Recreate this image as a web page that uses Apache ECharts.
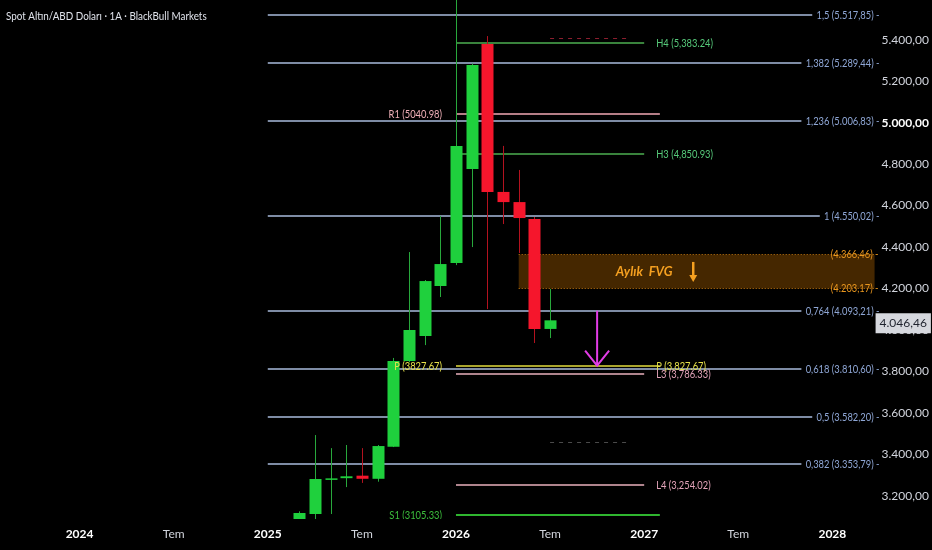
<!DOCTYPE html>
<html>
<head>
<meta charset="utf-8">
<script src="https://cdn.jsdelivr.net/npm/echarts@6/dist/echarts.min.js"></script>
<style>
html,body{margin:0;padding:0;background:#000;}
#chart{width:932px;height:550px;}
</style>
</head>
<body>
<div id="chart"></div>
<script>
// ---------- DATA ----------
const categories = [
  '2023-09','2023-10','2023-11','2023-12',
  '2024-01','2024-02','2024-03','2024-04','2024-05','2024-06','2024-07','2024-08','2024-09','2024-10','2024-11','2024-12',
  '2025-01','2025-02','2025-03','2025-04','2025-05','2025-06','2025-07','2025-08','2025-09','2025-10','2025-11','2025-12',
  '2026-01','2026-02','2026-03','2026-04','2026-05','2026-06','2026-07','2026-08','2026-09','2026-10','2026-11','2026-12',
  '2027-01','2027-02','2027-03','2027-04','2027-05','2027-06','2027-07','2027-08','2027-09','2027-10','2027-11','2027-12',
  '2028-01','2028-02','2028-03'
];
const xTickMonths = ['2024-01','2024-07','2025-01','2025-07','2026-01','2026-07','2027-01','2027-07','2028-01'];
const xTickLabels = ['2024','Tem','2025','Tem','2026','Tem','2027','Tem','2028'];

const candleMonths = ['2025-03','2025-04','2025-05','2025-06','2025-07','2025-08','2025-09','2025-10','2025-11','2025-12','2026-01','2026-02','2026-03','2026-04','2026-05','2026-06','2026-07'];
const opens  = [2860, 3112, 3281, 3285, 3297, 3282, 3437, 3850, 3971, 4212, 4323, 4777, 5380, 4666, 4617, 4535, 4005];
const closes = [3117, 3281, 3284, 3294, 3282, 3440, 3850, 4000, 4236, 4318, 4888, 5278, 4666, 4617, 4540, 4005, 4046.46];
const lows   = [2840, 3060, 3112, 3242, 3262, 3268, 3435, 3845, 3927, 4159, 4313, 4400, 4101, 4511, 4371, 3937, 3961];
const highs  = [3125, 3493, 3430, 3445, 3430, 3445, 3865, 4376, 4241, 4550, 5598, 5285, 5418, 4888, 4772, 4545, 4198];

const fibStartMonth = '2025-01';
const fibRatios = ['1,5','1,382','1,236','1','0,764','0,618','0,5','0,382'];
const fibValues = [5517.85, 5289.44, 5006.83, 4550.02, 4093.21, 3810.60, 3582.20, 3353.79];

const pivotStartMonth = '2026-01';
const pivotNames = ['H4','R1','H3','P','L3','L4','S1'];
const pivotValues = [5383.24, 5040.98, 4850.93, 3827.67, 3786.33, 3254.02, 3105.33];
const pivotEndMonths = ['2027-01','2027-02','2027-01','2027-02','2027-01','2027-01','2027-02'];
const pivotRightText = ['H4 (5,383.24)','','H3 (4,850.93)','P (3,827.67)','L3 (3,786.33)','L4 (3,254.02)',''];
const pivotLeftText  = ['','R1 (5040.98)','','P (3827.67)','','','S1 (3105.33)'];

const dashNames = ['upper','lower'];
const dashValues = [5409, 3459];
const dashStartMonth = '2026-07';
const dashEndMonth = '2026-12';

const fvgStartMonth = '2026-05';
const fvgTop = 4366.46;
const fvgBottom = 4203.17;
const fvgTextMonth = '2027-01';
const fvgArrowMonth = '2027-04';
const fvgTitle = 'Aylık  FVG';

const arrowMonth = '2026-10';
const arrowFrom = 4093.21;
const arrowTo = 3827.67;

const lastPrice = 4046.46;
const chartTitle = 'Spot Altın/ABD Doları · 1A · BlackBull Markets';

// ---------- HELPERS ----------
const FONT = '"Liberation Sans Narrow", "Lato", "Roboto", sans-serif';
const SX = 0.85;
function fmtTR(v){
  const s = v.toFixed(2).split('.');
  return s[0].replace(/\B(?=(\d{3})+(?!\d))/g,'.') + ',' + s[1];
}
const idx = m => categories.indexOf(m);

const pivotStyle = {
  H4:{line:'#4caf50', text:'#56c97a', w:1.5},
  R1:{line:'#f2a9b4', text:'#f0b0b8', w:1.5},
  H3:{line:'#4caf50', text:'#56c97a', w:1.5},
  P: {line:'#e3dc3c', text:'#e8e24a', w:1.5},
  L3:{line:'#eab0bd', text:'#e2a3b8', w:1.5},
  L4:{line:'#eab0bd', text:'#e2a3b8', w:1.5},
  S1:{line:'#2fb52f', text:'#3cbf3c', w:2}
};
const dashStyle = {upper:'#8c1e2e', lower:'#4a4a4a'};
const UP = '#1fd03d', DOWN = '#f5162c';
const UP_WICK = '#28a83c', DOWN_WICK = '#b3121f';

const candleData = candleMonths.map((m,i)=>[idx(m), opens[i], closes[i], lows[i], highs[i]]);

const chart = echarts.init(document.getElementById('chart'));
const option = {
  backgroundColor:'#000',
  animation:false,
  graphic:[{
    type:'text', left:6, top:10, scaleX:0.82,
    style:{text:chartTitle, fill:'#e0e3eb', font:'12px '+FONT}
  }],
  grid:{left:9, right:58, top:0, bottom:31},
  xAxis:{
    type:'category', data:categories, boundaryGap:true,
    axisLine:{show:false}, axisTick:{show:false}, splitLine:{show:false},
    axisLabel:{
      margin:9,
      interval:(i,val)=>xTickMonths.indexOf(val)>=0,
      formatter:(val)=>{
        const k = xTickMonths.indexOf(val);
        if(k<0) return '';
        const t = xTickLabels[k];
        return t==='Tem' ? '{m|Tem}' : '{y|'+t+'}';
      },
      rich:{
        y:{color:'#ffffff', fontWeight:'bold', fontSize:12, fontFamily:FONT},
        m:{color:'#d1d4dc', fontSize:12, fontFamily:FONT}
      }
    }
  },
  yAxis:{
    type:'value', position:'right', min:3088, max:5592, splitNumber:12, scale:true,
    axisLine:{show:false}, axisTick:{show:false}, splitLine:{show:false},
    axisLabel:{
      margin:10, showMinLabel:false, showMaxLabel:false,
      formatter:(v)=> v===5000 ? '{b|'+fmtTR(v)+'}' : '{n|'+fmtTR(v)+'}',
      rich:{
        n:{color:'#d1d4dc', fontSize:12, fontFamily:FONT},
        b:{color:'#ffffff', fontSize:12, fontWeight:'bold', fontFamily:FONT}
      }
    }
  },
  series:[
    // FVG box (behind candles)
    {
      type:'custom', z:1, clip:false,
      data:[[idx(fvgStartMonth), fvgTop, fvgBottom]],
      encode:{x:0, y:[1,2]},
      renderItem:(params, api)=>{
        const cs = params.coordSys;
        const p1 = api.coord([idx(fvgStartMonth), fvgTop]);
        const p2 = api.coord([idx(fvgStartMonth), fvgBottom]);
        const xEnd = cs.x + cs.width + 3;
        const pt = api.coord([idx(fvgTextMonth), (fvgTop+fvgBottom)/2]);
        const pa = api.coord([idx(fvgArrowMonth), (fvgTop+fvgBottom)/2]);
        const ty = Math.round(p1[1])+0.5, by = Math.round(p2[1])+0.5;
        return {type:'group', children:[
          {type:'rect', shape:{x:p1[0], y:ty, width:xEnd-p1[0], height:by-ty}, style:{fill:'rgba(255,145,0,0.27)'}},
          {type:'line', shape:{x1:p1[0], y1:ty, x2:xEnd, y2:ty}, style:{stroke:'#c57a10', lineWidth:1, lineDash:[1,2]}},
          {type:'line', shape:{x1:p1[0], y1:by, x2:xEnd, y2:by}, style:{stroke:'#c57a10', lineWidth:1, lineDash:[1,2]}},
          {type:'text', x:pt[0], y:pt[1]+1, style:{text:fvgTitle, align:'center', verticalAlign:'middle', fill:'#f5a020', font:'italic bold 13px '+FONT}},
          {type:'line', shape:{x1:pa[0]+2, y1:pa[1]-9, x2:pa[0]+2, y2:pa[1]+5}, style:{stroke:'#f5a020', lineWidth:2.5}},
          {type:'polygon', shape:{points:[[pa[0]-2,pa[1]+4],[pa[0]+6,pa[1]+4],[pa[0]+2,pa[1]+11]]}, style:{fill:'#f5a020'}},
          {type:'text', x:xEnd+4, y:ty, scaleX:SX, style:{text:'('+fmtTR(fvgTop)+') -', align:'right', verticalAlign:'middle', fill:'#e8961e', font:'11px '+FONT}},
          {type:'text', x:xEnd+4, y:by, scaleX:SX, style:{text:'('+fmtTR(fvgBottom)+') -', align:'right', verticalAlign:'middle', fill:'#e8961e', font:'11px '+FONT}}
        ]};
      }
    },
    // Fibonacci levels
    {
      type:'custom', z:2, clip:false,
      data:fibValues.map(v=>[idx(fibStartMonth), v]),
      encode:{x:0, y:1},
      renderItem:(params, api)=>{
        const i = params.dataIndex;
        const cs = params.coordSys;
        const p = api.coord([idx(fibStartMonth), fibValues[i]]);
        const xEnd = cs.x + cs.width + 8;
        const y = Math.round(p[1]);
        return {type:'group', children:[
          {type:'line', shape:{x1:p[0], y1:y, x2:xEnd-8, y2:y}, style:{stroke:'#a9bbdc', lineWidth:1.6}},
          {type:'text', x:xEnd, y:y, scaleX:SX, style:{text:fibRatios[i]+' ('+fmtTR(fibValues[i])+') -', align:'right', verticalAlign:'middle', fill:'#8fa7d6', font:'11px '+FONT, backgroundColor:'#000', padding:[1,0,1,5]}}
        ]};
      }
    },
    // Pivot lines (behind candles)
    {
      type:'custom', z:3, clip:true,
      data:pivotValues.map(v=>[idx(pivotStartMonth), v]),
      encode:{x:0, y:1},
      renderItem:(params, api)=>{
        const i = params.dataIndex;
        const st = pivotStyle[pivotNames[i]];
        const p1 = api.coord([idx(pivotStartMonth), pivotValues[i]]);
        const p2 = api.coord([idx(pivotEndMonths[i]), pivotValues[i]]);
        const y = Math.round(p1[1]);
        return {type:'line', shape:{x1:p1[0], y1:y, x2:p2[0], y2:y}, style:{stroke:st.line, lineWidth:st.w}};
      }
    },
    // dashed levels
    {
      type:'custom', z:3, clip:false,
      data:dashValues.map(v=>[idx(dashStartMonth), v]),
      encode:{x:0, y:1},
      renderItem:(params, api)=>{
        const i = params.dataIndex;
        const p1 = api.coord([idx(dashStartMonth), dashValues[i]]);
        const p2 = api.coord([idx(dashEndMonth), dashValues[i]]);
        const y = Math.round(p1[1])+0.5;
        return {type:'line', shape:{x1:p1[0], y1:y, x2:p2[0], y2:y}, style:{stroke:dashStyle[dashNames[i]], lineWidth:1, lineDash:[4,5]}};
      }
    },
    // candles (custom, clamped to plot area)
    {
      type:'custom', z:5, clip:true,
      data:candleData,
      encode:{x:0, y:[1,2,3,4]},
      renderItem:(params, api)=>{
        const cs = params.coordSys;
        const top = cs.y, bot = cs.y + cs.height;
        const cl = v => Math.max(top, Math.min(bot, v));
        const i = api.value(0);
        const o = api.value(1), c = api.value(2), l = api.value(3), h = api.value(4);
        const x = Math.round(api.coord([i, o])[0]);
        const yO = cl(api.coord([i, o])[1]), yC = cl(api.coord([i, c])[1]);
        const yL = cl(api.coord([i, l])[1]), yH = cl(api.coord([i, h])[1]);
        const up = c >= o;
        const yTop = Math.min(yO, yC), hgt = Math.max(1.5, Math.abs(yO - yC));
        return {type:'group', children:[
          {type:'line', shape:{x1:x+0.5, y1:yH, x2:x+0.5, y2:yL}, style:{stroke:up?UP_WICK:DOWN_WICK, lineWidth:1}},
          {type:'rect', shape:{x:x-5.5, y:yTop, width:12, height:hgt}, style:{fill:up?UP:DOWN}}
        ]};
      }
    },
    // Pivot labels (above candles)
    {
      type:'custom', z:7, clip:true,
      data:pivotValues.map(v=>[idx(pivotStartMonth), v]),
      encode:{x:0, y:1},
      renderItem:(params, api)=>{
        const i = params.dataIndex;
        const st = pivotStyle[pivotNames[i]];
        const p1 = api.coord([idx(pivotStartMonth), pivotValues[i]]);
        const pr = api.coord([idx('2027-01'), pivotValues[i]]);
        const y = Math.round(p1[1]);
        const ch = [];
        if(pivotRightText[i]) ch.push({type:'text', x:pr[0]+12, y:y, scaleX:SX, style:{text:pivotRightText[i], align:'left', verticalAlign:'middle', fill:st.text, font:'11px '+FONT}});
        if(pivotLeftText[i]) ch.push({type:'text', x:p1[0]-14, y:y, scaleX:SX, style:{text:pivotLeftText[i], align:'right', verticalAlign:'middle', fill:st.text, font:'11px '+FONT}});
        return {type:'group', children:ch};
      }
    },
    // magenta arrow
    {
      type:'custom', z:6, clip:false,
      data:[[idx(arrowMonth), arrowFrom, arrowTo]],
      encode:{x:0, y:[1,2]},
      renderItem:(params, api)=>{
        const a = api.coord([idx(arrowMonth), arrowFrom]);
        const b = api.coord([idx(arrowMonth), arrowTo]);
        return {type:'group', children:[
          {type:'line', shape:{x1:a[0], y1:a[1], x2:b[0], y2:b[1]}, style:{stroke:'#e23ce6', lineWidth:2}},
          {type:'polyline', shape:{points:[[b[0]-12,b[1]-15],[b[0],b[1]],[b[0]+12,b[1]-15]]}, style:{stroke:'#e23ce6', lineWidth:2, fill:null}}
        ]};
      }
    },
    // last price label
    {
      type:'custom', z:10, clip:false,
      data:[[idx(candleMonths[candleMonths.length-1]), lastPrice]],
      encode:{x:0, y:1},
      renderItem:(params, api)=>{
        const cs = params.coordSys;
        const p = api.coord([idx(candleMonths[candleMonths.length-1]), lastPrice]);
        return {type:'text', x:cs.x+cs.width+4, y:p[1]+3, style:{text:fmtTR(lastPrice), align:'left', verticalAlign:'middle', fill:'#1e222d', font:'12px '+FONT, backgroundColor:'#d6d8de', padding:[4,4,4,4]}};
      }
    }
  ]
};
chart.setOption(option);
</script>
</body>
</html>
